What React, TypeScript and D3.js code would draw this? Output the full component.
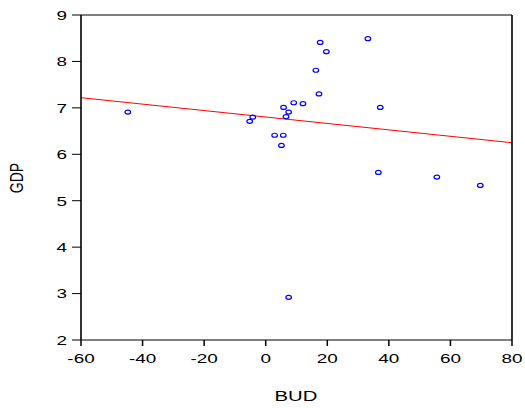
import React from "react";
import * as d3 from "d3";

const budValues = [-44.8, -5.2, -4.2, 2.9, 5.7, 5.1, 5.8, 7.45, 6.6, 9.1, 12.1, 17.3, 16.3, 17.7, 19.7, 33.2, 37.2, 36.6, 55.6, 69.7, 7.45];
const gdpValues = [6.91, 6.71, 6.8, 6.41, 6.41, 6.19, 7.01, 6.91, 6.81, 7.11, 7.09, 7.3, 7.81, 8.41, 8.21, 8.49, 7.01, 5.61, 5.51, 5.33, 2.92];
const xTicks = [-60, -40, -20, 0, 20, 40, 60, 80];
const yTicks = [2, 3, 4, 5, 6, 7, 8, 9];
const fitIntercept = 6.803;
const fitSlope = -0.00693;

export default function App() {
  const W = 525, H = 408;
  const left = 81, right = 512, top = 15, bottom = 340;
  const x = d3.scaleLinear().domain([-60, 80]).range([left, right]);
  const y = d3.scaleLinear().domain([2, 9]).range([bottom, top]);
  const font = "'Liberation Sans', Arial, sans-serif";
  const sx = 1.4;
  const pts = budValues.map((b, i) => [b, gdpValues[i]]);
  const fit = d3.line<number>().x(v => x(v)).y(v => y(fitIntercept + fitSlope * v));
  const stretched = (px: number, py: number, anchor: string, s: string | number, fs = 13.5) => (
    <text transform={`translate(${px},${py}) scale(${sx},1)`} textAnchor={anchor} fontFamily={font} fontSize={fs} fill="#000">{s}</text>
  );
  return (
    <svg width={W} height={H} style={{ position: "absolute", left: 0, top: 0, background: "#fff" }}>
      <rect x={0} y={0} width={W} height={H} fill="#fff" />
      <path d={fit([-60, 80]) || ""} stroke="#ff0000" strokeWidth={1} fill="none" />
      {pts.map((p, i) => (
        <ellipse key={i} cx={x(p[0])} cy={y(p[1])} rx={2.8} ry={2.0} fill="none" stroke="#0000ff" strokeWidth={1.2} />
      ))}
      <line x1={left} x2={right} y1={top} y2={top} stroke="#000" strokeWidth={1} />
      <line x1={left} x2={right} y1={bottom} y2={bottom} stroke="#000" strokeWidth={1} />
      <line x1={left} x2={left} y1={top} y2={bottom} stroke="#000" strokeWidth={1.6} />
      <line x1={right} x2={right} y1={top} y2={bottom} stroke="#000" strokeWidth={1.6} />
      {xTicks.map(t => (
        <g key={"x" + t}>
          <line x1={x(t)} x2={x(t)} y1={bottom} y2={bottom + 6} stroke="#000" strokeWidth={1.5} />
          {stretched(x(t), 363, "middle", t)}
        </g>
      ))}
      {yTicks.map(t => (
        <g key={"y" + t}>
          <line x1={left - 9} x2={left} y1={y(t)} y2={y(t)} stroke="#000" strokeWidth={1} />
          {stretched(67, y(t) + 4.8, "end", t)}
        </g>
      ))}
      {stretched(296, 401, "middle", "BUD", 14.5)}
      <text transform={`translate(23,178) scale(1.3,1) rotate(-90)`} textAnchor="middle" fontFamily={font} fontSize={14} fill="#000">GDP</text>
    </svg>
  );
}
